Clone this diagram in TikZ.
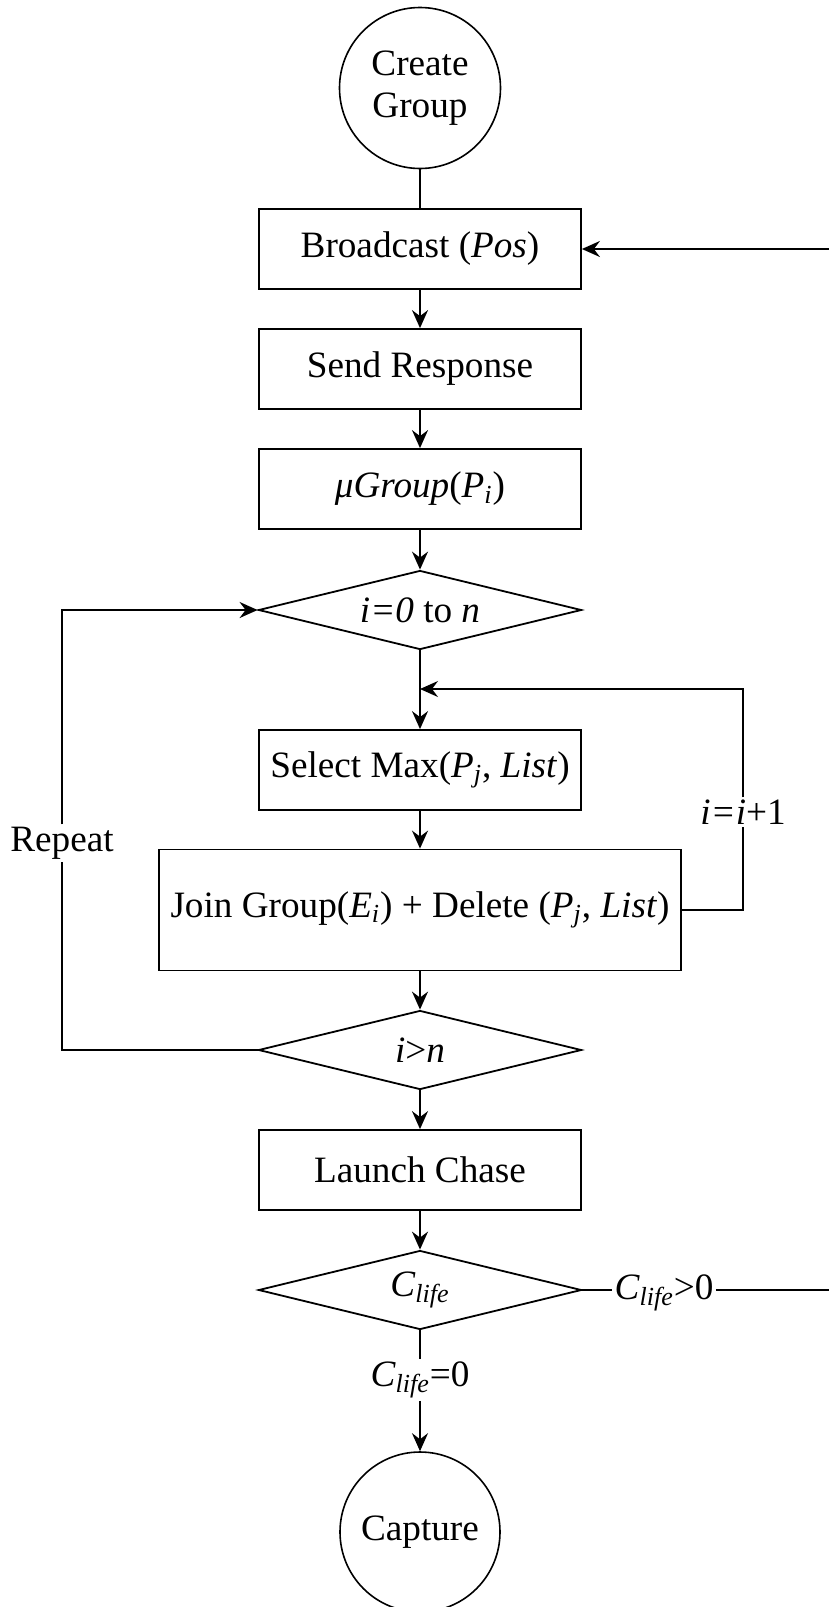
\documentclass[tikz,border=0pt]{standalone}
\usepackage{fontspec}
\setmainfont{Liberation Serif}
\usetikzlibrary{shapes.geometric,arrows.meta}
\begin{document}
\begin{tikzpicture}[x=0.5pt,y=-0.5pt,
  every node/.style={font=\fontsize{18.6}{21}\selectfont},
  box/.style={draw, line width=0.9pt, minimum width=161pt, minimum height=40pt, inner sep=0pt},
  term/.style={draw, circle, line width=0.8pt, minimum size=80.5pt, inner sep=0pt, align=center},
  dec/.style={draw, diamond, aspect=4.1, line width=0.9pt, minimum width=161.5pt, minimum height=39.5pt, inner sep=0pt},
  conn/.style={line width=0.9pt},
  arr/.style={conn, -{Stealth[length=9pt,width=8pt,inset=3pt]}},
  lbl/.style={fill=white, inner sep=1pt}]
\useasboundingbox (0,0) rectangle (829,1607);

\node[term] (create) at (420,88) {Create\\Group};
\node[box] (bcast) at (420,249) {Broadcast (\textit{Pos})};
\node[box] (send) at (420,369) {Send Response};
\node[box] (mug) at (420,489) {\textit{μGroup}(\textit{P}\textsubscript{\textit{i}})};
\node[dec] (loop) at (420,610) {\textit{i=0} to \textit{n}};
\coordinate (merge) at (420,689);
\node[box] (sel) at (420,770) {Select Max(\textit{P}\textsubscript{\textit{j}}, \textit{List})};
\node[box, minimum width=261pt, minimum height=60.5pt] (join) at (420,910) {Join Group(\textit{E}\textsubscript{\textit{i}}) + Delete (\textit{P}\textsubscript{\textit{j}}, \textit{List})};
\node[dec] (cond) at (420,1050) {\textit{i}>\textit{n}};
\node[box] (launch) at (420,1170) {Launch Chase};
\node[dec] (clife) at (420,1290) {\textit{C}\textsubscript{\textit{life}}};
\node[term, minimum size=80pt] (capture) at (420,1532) {Capture};

\node[lbl] (inc) at (743,812) {\textit{i=i}+1};
\node[lbl] (rep) at (62,843) {Repeat};
\node[lbl] (gt) at (664,1293) {\textit{C}\textsubscript{\textit{life}}>0};
\node[lbl] (eq) at (420,1380) {\textit{C}\textsubscript{\textit{life}}=0};
\coordinate (rc) at (845,1290);

\draw[conn] (create) -- (bcast);
\draw[arr] (bcast) -- (send);
\draw[arr] (send) -- (mug);
\draw[arr] (mug) -- (loop);
\draw[arr] (loop) -- (sel);
\draw[arr] (sel) -- (join);
\draw[arr] (join) -- (cond);
\draw[arr] (cond) -- (launch);
\draw[arr] (launch) -- (clife);
\draw[conn] (clife) -- (eq);
\draw[arr] (eq) -- (capture);

\draw[conn] (join.east) -| (inc);
\draw[arr] (inc) |- (merge);

\draw[conn] (cond.west) -| (rep);
\draw[arr] (rep) |- (loop.west);

\draw[conn] (clife.east) -- (clife.east -| gt.west);
\draw[arr] (clife.east -| gt.east) -- (rc) |- (bcast.east);
\end{tikzpicture}
\end{document}
